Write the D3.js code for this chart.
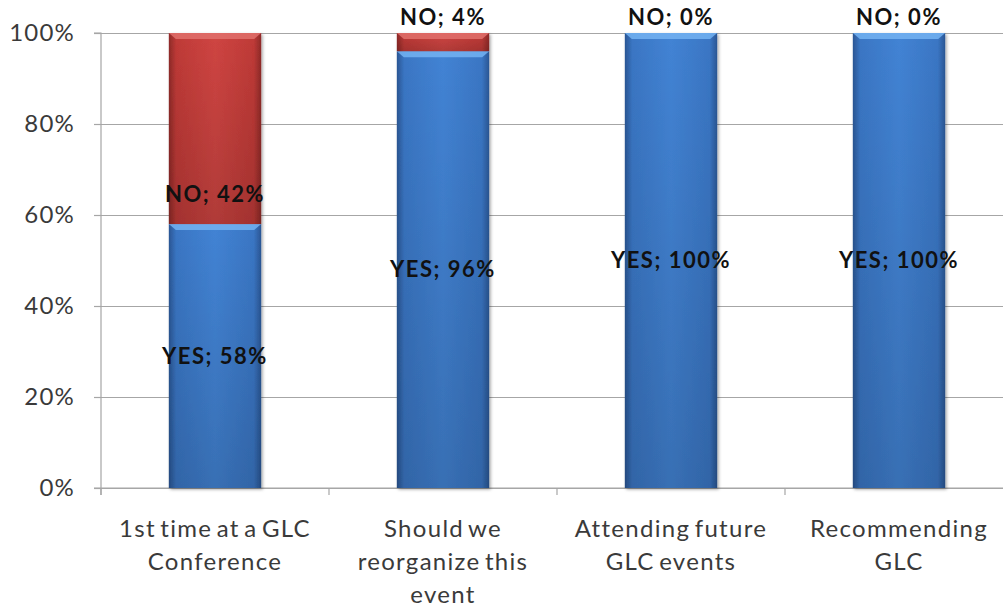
<!DOCTYPE html>
<html>
<head>
<meta charset="utf-8">
<script src="https://cdn.jsdelivr.net/npm/d3@7"></script>
<style>
  html, body { margin: 0; padding: 0; background: #fff; }
  svg { display: block; }
  text { font-family: Lato, "Open Sans", sans-serif; }
</style>
</head>
<body>
<svg id="chart" width="1003" height="608"></svg>
<script>
// Survey answers per question (share of respondents)
const categories = [
  "1st time at a GLC Conference",
  "Should we reorganize this event",
  "Attending future GLC events",
  "Recommending GLC"
];
const categoryLines = [
  ["1st time at a GLC", "Conference"],
  ["Should we", "reorganize this", "event"],
  ["Attending future", "GLC events"],
  ["Recommending", "GLC"]
];
const yesValues = [0.58, 0.96, 1.00, 1.00];
const noValues  = [0.42, 0.04, 0.00, 0.00];
// where each "NO" label sits on the value axis
const noLabelAt = [0.645, 1.035, 1.035, 1.035];
const yTicks = [0, 0.2, 0.4, 0.6, 0.8, 1.0];

const svg = d3.select("#chart");
const margin = { left: 101, top: 33, bottom: 488 };
const plotRight = 1013;

const x = d3.scaleBand().domain(categories).range([margin.left, plotRight]).padding(0);
const y = d3.scaleLinear().domain([0, 1]).range([margin.bottom, margin.top]);
const barW = x.bandwidth() * 0.405;

const defs = svg.append("defs");
function barGradient(id, edge, mid, light) {
  const g = defs.append("linearGradient").attr("id", id).attr("x1", 0).attr("x2", 1).attr("y1", 0).attr("y2", 0);
  g.append("stop").attr("offset", "0%").attr("stop-color", edge);
  g.append("stop").attr("offset", "8%").attr("stop-color", mid);
  g.append("stop").attr("offset", "50%").attr("stop-color", light);
  g.append("stop").attr("offset", "92%").attr("stop-color", mid);
  g.append("stop").attr("offset", "100%").attr("stop-color", edge);
}
barGradient("blueBar", "#2a5694", "#3a76c4", "#4283d4");
barGradient("redBar", "#8e2a28", "#bf3a37", "#cf4542");

function vGradient(id, top, bottom) {
  const g = defs.append("linearGradient").attr("id", id).attr("x1", 0).attr("x2", 0).attr("y1", 0).attr("y2", 1);
  g.append("stop").attr("offset", "0%").attr("stop-color", top).attr("stop-opacity", 0.0);
  g.append("stop").attr("offset", "100%").attr("stop-color", bottom).attr("stop-opacity", 0.25);
}
vGradient("shade", "#000", "#000");

const shadow = defs.append("filter").attr("id", "barShadow").attr("x", "-10%").attr("y", "-5%").attr("width", "125%").attr("height", "112%");
shadow.append("feDropShadow").attr("dx", 1.5).attr("dy", 1.5).attr("stdDeviation", 1.5).attr("flood-color", "#000").attr("flood-opacity", 0.35);

// gridlines
svg.append("g")
  .attr("transform", `translate(${margin.left},0)`)
  .call(d3.axisLeft(y).tickValues(yTicks).tickSize(-(plotRight - margin.left)).tickFormat(""))
  .call(g => g.select(".domain").remove())
  .call(g => g.selectAll("line").attr("stroke", "#a6a6a6").attr("stroke-width", 1.2));

// y axis
svg.append("g")
  .attr("transform", `translate(${margin.left},0)`)
  .call(d3.axisLeft(y).tickValues(yTicks).tickSize(7).tickPadding(19).tickFormat(d3.format(".0%")))
  .call(g => g.select(".domain").attr("stroke", "#a6a6a6").attr("stroke-width", 1.2)
                 .attr("d", `M-7,${margin.top}H0V${margin.bottom + 7}`))
  .call(g => g.selectAll("line").attr("stroke", "#a6a6a6").attr("stroke-width", 1.2))
  .call(g => g.selectAll("text").attr("fill", "#3a3a3a")
                 .style("font-size", "24px").style("letter-spacing", "1.2px")
                 .style("font-family", "Lato, sans-serif"));

// x axis baseline with tick marks between categories
const xAxis = svg.append("g");
xAxis.append("line")
  .attr("x1", margin.left - 7).attr("x2", plotRight)
  .attr("y1", y(0)).attr("y2", y(0))
  .attr("stroke", "#a6a6a6").attr("stroke-width", 1.2);
xAxis.selectAll("line.tick")
  .data(categories)
  .join("line").attr("class", "tick")
  .attr("x1", d => x(d)).attr("x2", d => x(d))
  .attr("y1", y(0)).attr("y2", y(0) + 7)
  .attr("stroke", "#a6a6a6").attr("stroke-width", 1.2);

// category labels
xAxis.selectAll("text.cat")
  .data(categories)
  .join("text").attr("class", "cat")
  .attr("text-anchor", "middle")
  .attr("fill", "#3a3a3a")
  .style("font-size", "24px")
  .style("letter-spacing", "1.3px")
  .style("word-spacing", "-3px")
  .each(function (d, i) {
    const t = d3.select(this);
    categoryLines[i].forEach((line, k) => {
      t.append("tspan")
        .attr("x", x(d) + x.bandwidth() / 2)
        .attr("y", y(0) + 49 + k * 33)
        .text(line);
    });
  });

// stacked bars
const bars = svg.append("g");
categories.forEach((c, i) => {
  const cx = x(c) + x.bandwidth() / 2;
  const g = bars.append("g").attr("filter", "url(#barShadow)");
  const segs = [
    { v0: 0, v1: yesValues[i], fill: "url(#blueBar)", hi: "#74b3f2" },
    { v0: yesValues[i], v1: yesValues[i] + noValues[i], fill: "url(#redBar)", hi: "#e0706c" }
  ];
  segs.forEach(s => {
    if (s.v1 - s.v0 <= 0) return;
    const top = y(s.v1), h = y(s.v0) - y(s.v1);
    g.append("rect").attr("x", cx - barW / 2).attr("y", top).attr("width", barW).attr("height", h).attr("fill", s.fill);
    g.append("rect").attr("x", cx - barW / 2).attr("y", top).attr("width", barW).attr("height", h).attr("fill", "url(#shade)").attr("opacity", 0.6);
    // bevel highlight along the top edge
    const bh = Math.min(6, h / 2);
    g.append("path")
      .attr("d", `M${cx - barW / 2},${top}H${cx + barW / 2}L${cx + barW / 2 - 7},${top + bh}H${cx - barW / 2 + 7}Z`)
      .attr("fill", s.hi).attr("opacity", 0.85);
  });
});

// data labels
const labels = svg.append("g")
  .style("font-size", "22px").style("font-weight", "bold").style("letter-spacing", "1.5px")
  .attr("fill", "#111").attr("text-anchor", "middle");
categories.forEach((c, i) => {
  const cx = x(c) + x.bandwidth() / 2;
  labels.append("text")
    .attr("x", cx).attr("y", y(yesValues[i] / 2)).attr("dy", "0.35em")
    .text(`YES; ${Math.round(yesValues[i] * 100)}%`);
  labels.append("text")
    .attr("x", cx).attr("y", y(noLabelAt[i])).attr("dy", "0.35em")
    .text(`NO; ${Math.round(noValues[i] * 100)}%`);
});
</script>
</body>
</html>
